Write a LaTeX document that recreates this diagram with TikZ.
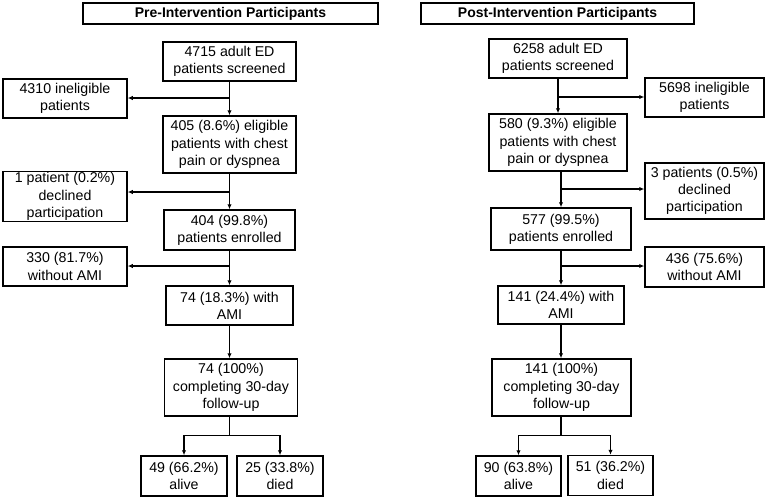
\documentclass[tikz,border=0pt]{standalone}
\usepackage{fontspec}
\setmainfont{Liberation Sans}
\usetikzlibrary{arrows.meta}
\tikzset{
  flowbox/.style={draw, line width=1.5pt, inner sep=0pt, align=center,
    font=\fontsize{14.2}{17.3}\selectfont},
  headbox/.style={flowbox, font=\fontsize{14}{16}\selectfont\bfseries},
  arr/.style={line width=1.4pt, -{Latex[length=5pt,width=4.5pt]}}
}
\begin{document}
\begin{tikzpicture}[x=1pt,y=-1pt]
			\useasboundingbox (0,0) rectangle (767,498);
			% pre-intervention column
			\node[headbox, minimum width=295, minimum height=21] (titleL) at (230.5,13.5) {Pre-Intervention Participants};
			\node[flowbox, minimum width=133, minimum height=39] (scrL) at (229.5,61.5) {4715 adult ED\\patients screened};
			\node[flowbox, minimum width=124, minimum height=39] (inelL) at (65,98.5) {4310 ineligible\\patients};
			\node[flowbox, minimum width=133, minimum height=57] (eligL) at (229.5,144.5) {405 (8.6\%) eligible\\patients with chest\\pain or dyspnea};
			\node[flowbox, minimum width=124, minimum height=50] (declL) at (65,196.5) {1 patient (0.2\%)\\declined\\participation};
			\node[flowbox, minimum width=131, minimum height=40] (enrL) at (229.5,230) {404 (99.8\%)\\patients enrolled};
			\node[flowbox, minimum width=124, minimum height=39] (noamiL) at (65,266.5) {330 (81.7\%)\\without AMI};
			\node[flowbox, minimum width=127, minimum height=39] (amiL) at (229.5,305.5) {74 (18.3\%) with\\AMI};
			\node[flowbox, minimum width=133, minimum height=57] (fuL) at (231,387.5) {74 (100\%)\\completing 30-day\\follow-up};
			\node[flowbox, minimum width=86, minimum height=40] (aliveL) at (184,476) {49 (66.2\%)\\alive};
			\node[flowbox, minimum width=86, minimum height=40] (diedL) at (280,476) {25 (33.8\%)\\died};
			\draw[arr] (scrL) -- (eligL);
			\draw[arr] (eligL) -- (enrL);
			\draw[arr] (enrL) -- (amiL);
			\draw[arr] (amiL) -- (fuL.north -| amiL);
			\coordinate (bL1) at (229.5,98);
			\coordinate (bL2) at (229.5,192);
			\coordinate (bL3) at (229.5,266);
			\draw[arr] (bL1) -- (bL1 -| inelL.east);
			\draw[arr] (bL2) -- (bL2 -| declL.east);
			\draw[arr] (bL3) -- (bL3 -| noamiL.east);
			\draw[arr] (fuL.south -| amiL) -- ++(0,19) -| (aliveL.north);
			\draw[arr] (fuL.south -| amiL) -- ++(0,19) -| (diedL.north);
			% post-intervention column
			\node[headbox, minimum width=273, minimum height=21] (titleR) at (557.5,13.5) {Post-Intervention Participants};
			\node[flowbox, minimum width=138, minimum height=39] (scrR) at (558,58.5) {6258 adult ED\\patients screened};
			\node[flowbox, minimum width=119, minimum height=39] (inelR) at (704.5,97.5) {5698 ineligible\\patients};
			\node[flowbox, minimum width=138, minimum height=57] (eligR) at (558,142.5) {580 (9.3\%) eligible\\patients with chest\\pain or dyspnea};
			\node[flowbox, minimum width=119, minimum height=56] (declR) at (704.5,191) {3 patients (0.5\%)\\declined\\participation};
			\node[flowbox, minimum width=140, minimum height=42] (enrR) at (561,229) {577 (99.5\%)\\patients enrolled};
			\node[flowbox, minimum width=119, minimum height=40] (noamiR) at (704.5,267) {436 (75.6\%)\\without AMI};
			\node[flowbox, minimum width=126, minimum height=38] (amiR) at (561,305) {141 (24.4\%) with\\AMI};
			\node[flowbox, minimum width=139, minimum height=57] (fuR) at (561.5,387.5) {141 (100\%)\\completing 30-day\\follow-up};
			\node[flowbox, minimum width=85, minimum height=40] (aliveR) at (518.5,476) {90 (63.8\%)\\alive};
			\node[flowbox, minimum width=85, minimum height=40] (diedR) at (610.5,475.5) {51 (36.2\%)\\died};
			\draw[arr] (scrR) -- (eligR);
			\draw[arr] (eligR.south -| enrR) -- (enrR);
			\draw[arr] (enrR) -- (amiR);
			\draw[arr] (amiR) -- (fuR.north -| amiR);
			\coordinate (bR1) at (558,97);
			\coordinate (bR2) at (561,189);
			\coordinate (bR3) at (561,266);
			\draw[arr] (bR1) -- (bR1 -| inelR.west);
			\draw[arr] (bR2) -- (bR2 -| declR.west);
			\draw[arr] (bR3) -- (bR3 -| noamiR.west);
			\draw[arr] (fuR.south -| amiR) -- ++(0,19) -| (aliveR.north);
			\draw[arr] (fuR.south -| amiR) -- ++(0,19) -| (diedR.north);
\end{tikzpicture}
\end{document}
